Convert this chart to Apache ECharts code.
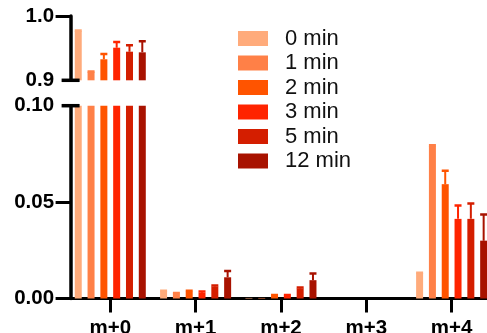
<!DOCTYPE html>
<html><head><meta charset="utf-8">
<script src="https://cdn.jsdelivr.net/npm/echarts@6/dist/echarts.min.js"></script>
<style>html,body{margin:0;padding:0;background:#fff}#c{width:487px;height:333px}</style>
</head><body><div id="c"></div>
<script>
// ---- data ----
const categories = ['m+0', 'm+1', 'm+2', 'm+3', 'm+4'];
const seriesNames = ['0 min', '1 min', '2 min', '3 min', '5 min', '12 min'];
const val0min  = [0.977,  0.0037, 0.0003, 0, 0.0131];
const val1min  = [0.9134, 0.0025, 0.0003, 0, 0.0792];
const val2min  = [0.9327, 0.0035, 0.0015, 0, 0.0593];
const val3min  = [0.9507, 0.0030, 0.0015, 0, 0.0413];
const val5min  = [0.9445, 0.0062, 0.0052, 0, 0.0413];
const val12min = [0.9435, 0.0110, 0.0095, 0, 0.0300];
const err0min  = [0.0003, 0.0003, 0, 0, 0.0003];
const err1min  = [0.0003, 0.0003, 0, 0, 0.0003];
const err2min  = [0.0082, 0.0005, 0.0003, 0, 0.0069];
const err3min  = [0.0090, 0.0006, 0.0003, 0, 0.0070];
const err5min  = [0.0100, 0.0005, 0.0005, 0, 0.0080];
const err12min = [0.0171, 0.0032, 0.0035, 0, 0.0136];
const topTicks = [0.9, 1.0];
const bottomTicks = [0, 0.05, 0.10];

const values = [val0min, val1min, val2min, val3min, val5min, val12min];
const errors = [err0min, err1min, err2min, err3min, err5min, err12min];
const colors = ['#FFAB7B', '#FF8047', '#FF5400', '#FF2400', '#D41E00', '#A81200'];

// ---- layout ----
const BAR_W = 7, BAR_GAP = 0.83, PITCH = BAR_W * (1 + BAR_GAP);
const GRID_L = 67.6, GRID_W = 426.7, AXIS_SHIFT = 3;
const FONT = 'Liberation Sans, Arial, sans-serif';

const chart = echarts.init(document.getElementById('c'), null, {renderer: 'canvas'});

function yAxisBase(gi, ticks, dec, tickVals) {
  return {
    type: 'value', gridIndex: gi, min: ticks[0], max: ticks[ticks.length - 1],
    interval: ticks[1] - ticks[0], offset: -AXIS_SHIFT,
    axisLine: {show: true, lineStyle: {color: '#000', width: 3.5}},
    axisTick: {show: true, length: 15, lineStyle: {color: '#000', width: 3}, customValues: tickVals},
    axisLabel: {show: true, margin: 16.5, color: '#000', fontSize: 20.5, fontWeight: 'bold', fontFamily: FONT,
      customValues: ticks, formatter: v => v.toFixed(dec)},
    splitLine: {show: false}
  };
}

const series = [];
[0, 1].forEach(gi => {
  values.forEach((vals, s) => {
    series.push({
      type: 'bar', name: seriesNames[s], xAxisIndex: gi, yAxisIndex: gi,
      data: vals, barWidth: BAR_W, barGap: (BAR_GAP * 100) + '%',
      itemStyle: {color: colors[s]}, clip: true, silent: true, animation: false
    });
  });
  const errData = [];
  values.forEach((vals, s) => vals.forEach((v, c) => { if (errors[s][c] > 0) errData.push([c, v, errors[s][c], s]); }));
  series.push({
    type: 'custom', xAxisIndex: gi, yAxisIndex: gi, clip: true, animation: false, silent: true,
    data: errData,
    renderItem: function (params, api) {
      const c = api.value(0), v = api.value(1), e = api.value(2), s = api.value(3);
      const p0 = api.coord([c, v]);
      const p1 = api.coord([c, v + e]);
      const x = p0[0] + (s - 2.5) * PITCH;
      const col = colors[s];
      return {
        type: 'group', children: [
          {type: 'line', shape: {x1: x, y1: p0[1], x2: x, y2: p1[1]}, style: {stroke: col, lineWidth: 2}},
          {type: 'line', shape: {x1: x - 3.5, y1: p1[1], x2: x + 3.5, y2: p1[1]}, style: {stroke: col, lineWidth: 2.5}}
        ]
      };
    }
  });
});

const option = {
  backgroundColor: '#fff',
  animation: false,
  grid: [
    {left: GRID_L, width: GRID_W, top: 16, height: 64.3, outerBoundsMode: 'none', containLabel: false},
    {left: GRID_L, width: GRID_W, top: 105.7, height: 192.8, outerBoundsMode: 'none', containLabel: false}
  ],
  xAxis: [
    {type: 'category', gridIndex: 0, data: categories, show: false},
    {type: 'category', gridIndex: 1, data: categories,
      axisLine: {show: true, lineStyle: {color: '#000', width: 3}},
      axisTick: {show: true, alignWithLabel: true, length: 14, lineStyle: {color: '#000', width: 3}},
      axisLabel: {margin: 19, color: '#000', fontSize: 20.5, fontWeight: 'bold', fontFamily: FONT}}
  ],
  yAxis: [
    yAxisBase(0, topTicks, 1, [topTicks[1]]),
    yAxisBase(1, bottomTicks, 2, [bottomTicks[0], bottomTicks[1]])
  ],
  legend: {
    data: seriesNames, orient: 'vertical', left: 238, top: 27.5, padding: 0,
    icon: 'rect', itemWidth: 30, itemHeight: 15, itemGap: 2.5,
    textStyle: {fontSize: 22, fontFamily: FONT, color: '#111', padding: [0, 0, 0, 12]}
  },
  series: series
};
chart.setOption(option);

// axis-break caps
function caps() {
  const axX = GRID_L + AXIS_SHIFT;
  const yTop = chart.convertToPixel({yAxisIndex: 0}, topTicks[0]);
  const yBot = chart.convertToPixel({yAxisIndex: 1}, bottomTicks[bottomTicks.length - 1]);
  chart.setOption({graphic: [
    {type: 'line', shape: {x1: axX - 9, y1: yTop, x2: axX + 9, y2: yTop}, style: {stroke: '#000', lineWidth: 3.5}, z: 100},
    {type: 'line', shape: {x1: axX - 9, y1: yBot, x2: axX + 9, y2: yBot}, style: {stroke: '#000', lineWidth: 3.5}, z: 100}
  ]});
}
caps();
</script>
</body></html>
